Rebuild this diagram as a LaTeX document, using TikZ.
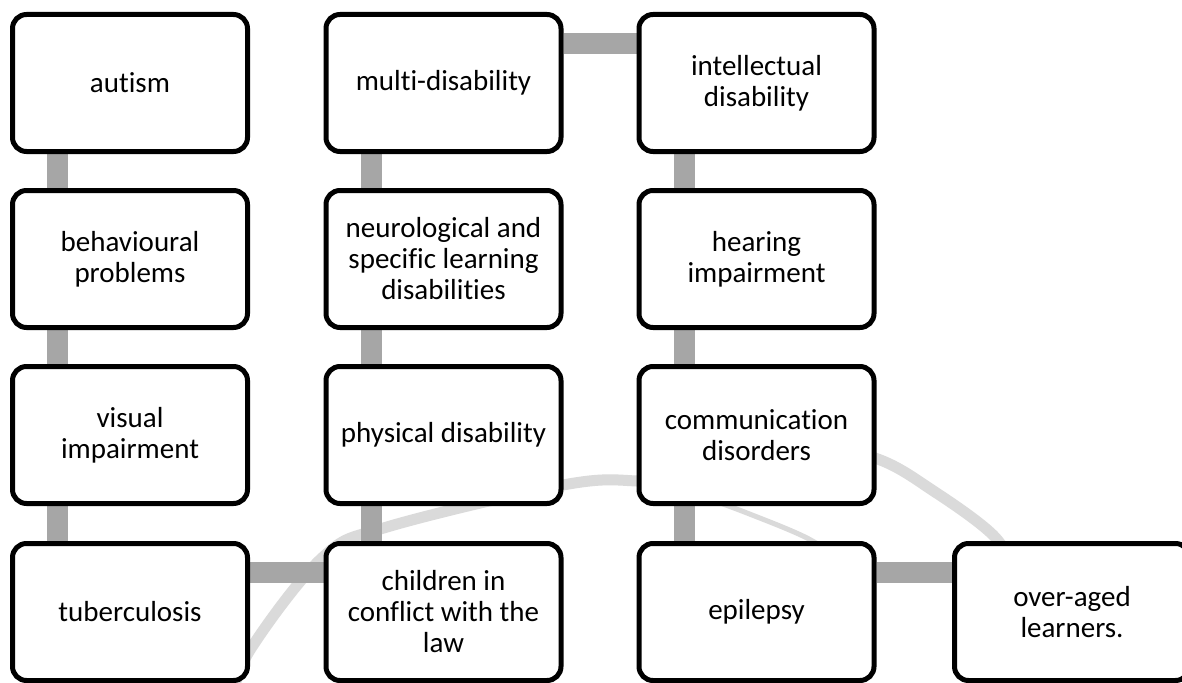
\documentclass[tikz,border=0pt]{standalone}
\usepackage{fontspec}
\setmainfont{Carlito}[Ligatures={NoCommon}]
\usetikzlibrary{backgrounds}
\definecolor{linkgray}{HTML}{A6A6A6}
\definecolor{swoosh}{HTML}{DADADA}
\begin{document}
\begin{tikzpicture}[x=1pt,y=-1pt,
  stagebox/.style={draw=black, line width=5pt, fill=white, rounded corners=14pt,
    minimum width=235pt, minimum height=137pt, align=center, inner sep=0pt,
    font=\fontsize{29}{31}\selectfont},
  vlink/.style={draw=linkgray, line width=21pt},
  hlink/.style={draw=linkgray, line width=21pt},
  band/.style={draw=swoosh, line width=11pt},
  tail/.style={draw=swoosh, line width=5pt}]
\useasboundingbox (0,0) rectangle (1182,682);
\clip (0,0) rectangle (1182,682);

% first column, top to bottom
\node[stagebox] (autism) at (130,83) {autism};
\node[stagebox] (behav)  at (130,259) {behavioural\\problems};
\node[stagebox] (visual) at (130,435) {visual\\impairment};
\node[stagebox] (tuber)  at (130,612) {tuberculosis};
% second column, bottom to top
\node[stagebox] (conflict) at (443.5,612) {children in\\conflict with the\\law};
\node[stagebox] (physical) at (443.5,435) {physical disability};
\node[stagebox] (neuro)    at (443.5,259) {neurological and\\specific learning\\disabilities};
\node[stagebox] (multi)    at (443.5,83) {multi-disability};
% third column, top to bottom
\node[stagebox] (intel)   at (756.5,83) {intellectual\\disability};
\node[stagebox] (hearing) at (756.5,259) {hearing\\impairment};
\node[stagebox] (comm)    at (756.5,435) {communication\\disorders};
\node[stagebox] (epil)    at (756.5,612) {epilepsy};
% last step
\node[stagebox] (overaged) at (1072,612) {over-aged\\learners.};

\begin{scope}[on background layer]
  \fill[white] (0,0) rectangle (1182,682);
  % faint sweeping bands behind the steps
  \draw[band] plot[smooth, tension=0.6] coordinates
    {(232,700) (250,650) (323,557) (387,527) (563,485) (637,481) (690,490)};
  \draw[tail] plot[smooth, tension=0.6] coordinates
    {(690,492) (747,513) (807,538) (840,560)};
  \draw[band] plot[smooth, tension=0.6] coordinates
    {(700,458) (790,442) (875,458) (935,492) (993,535) (1015,570)};
  % links between consecutive steps
  \draw[vlink] ([xshift=47.5pt]autism.south west) -- ([xshift=47.5pt]behav.north west);
  \draw[vlink] ([xshift=47.5pt]behav.south west) -- ([xshift=47.5pt]visual.north west);
  \draw[vlink] ([xshift=47.5pt]visual.south west) -- ([xshift=47.5pt]tuber.north west);
  \draw[hlink] ([yshift=-31.5pt]tuber.north east) -- ([yshift=-31.5pt]conflict.north west);
  \draw[vlink] ([xshift=47.5pt]conflict.north west) -- ([xshift=47.5pt]physical.south west);
  \draw[vlink] ([xshift=47.5pt]physical.north west) -- ([xshift=47.5pt]neuro.south west);
  \draw[vlink] ([xshift=47.5pt]neuro.north west) -- ([xshift=47.5pt]multi.south west);
  \draw[hlink] ([yshift=-31.5pt]multi.north east) -- ([yshift=-31.5pt]intel.north west);
  \draw[vlink] ([xshift=47.5pt]intel.south west) -- ([xshift=47.5pt]hearing.north west);
  \draw[vlink] ([xshift=47.5pt]hearing.south west) -- ([xshift=47.5pt]comm.north west);
  \draw[vlink] ([xshift=47.5pt]comm.south west) -- ([xshift=47.5pt]epil.north west);
  \draw[hlink] ([yshift=-31.5pt]epil.north east) -- ([yshift=-31.5pt]overaged.north west);
\end{scope}
\end{tikzpicture}
\end{document}
